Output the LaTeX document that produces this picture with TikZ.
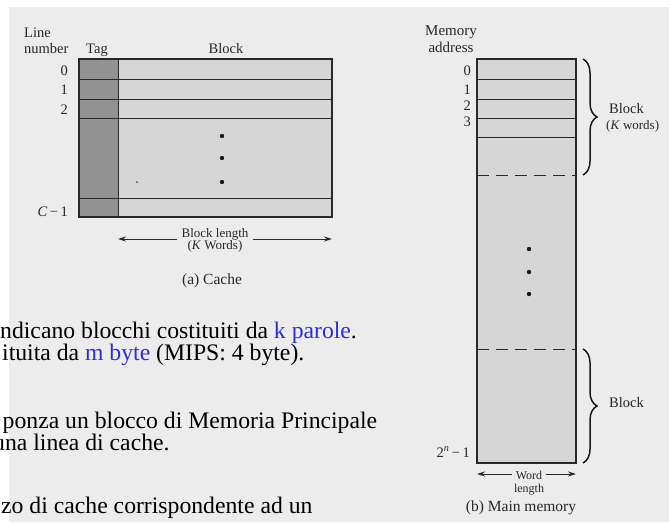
\documentclass[tikz,border=0pt]{standalone}
\usepackage{fontspec}
\setmainfont{Liberation Serif}
\usetikzlibrary{decorations.pathreplacing,arrows.meta}
\definecolor{bgc}{RGB}{236,236,236}
\definecolor{tagc}{RGB}{146,146,146}
\definecolor{blkc}{RGB}{214,214,214}
\definecolor{linec}{RGB}{40,40,40}
\definecolor{itblue}{RGB}{45,45,215}
\begin{document}
\begin{tikzpicture}[x=1pt,y=-1pt,
  hdr/.style={font=\fontsize{14.5}{16}\selectfont, inner sep=0, text=black!85},
  mhdr/.style={font=\fontsize{15}{16}\selectfont, inner sep=0, text=black!85},
  smalllbl/.style={font=\fontsize{13}{13}\selectfont, inner sep=0, text=black!85},
  tinylbl/.style={font=\fontsize{12}{12}\selectfont, inner sep=0, text=black!85},
  captionlbl/.style={font=\fontsize{15.5}{17}\selectfont, inner sep=0, text=black!85},
  ital/.style={font=\fontsize{23.7}{26}\selectfont, inner sep=0, anchor=base west},
  framebox/.style={draw=linec, line width=1.3pt, outer sep=0, inner sep=0},
  rowline/.style={draw=linec, line width=1pt},
  dashline/.style={draw=linec, line width=1pt, dash pattern=on 12pt off 7pt},
  arr/.style={draw=linec, line width=0.9pt, -{Stealth[length=8pt,width=5pt]}},
  bracestyle/.style={draw=black!90, line width=1.5pt, decorate, decoration={brace, amplitude=14pt}},
  dotc/.style={fill=black!90}
]
\useasboundingbox (0,0) rectangle (669,522);
\clip (0,0) rectangle (669,522);
\fill[white] (0,0) rectangle (669,522);
\fill[bgc] (9,7) rectangle (669,522);

% ---------- Cache ----------
\node[framebox, fill=blkc, minimum width=253, minimum height=158, anchor=north west] (cache) at (79,59) {};
\node[fill=tagc, inner sep=0, outer sep=0, minimum width=39, minimum height=158, anchor=north west] (tag) at (79,59) {};
\foreach \yy in {79,99,118,198} \draw[rowline] (79,\yy) -- (332,\yy);
\draw[rowline] (tag.north east) -- (tag.south east);
\draw[framebox] (cache.north west) rectangle (cache.south east);

\node[hdr, anchor=base west] (lline) at (24,37) {Line};
\node[hdr, anchor=base west] (lnum) at (24,53) {number};
\node[hdr, anchor=base] (ltag) at (97,53) {Tag};
\node[hdr, anchor=base] (lblock) at (226,53) {Block};
\node[hdr, anchor=base east] (r0) at (68,75) {0};
\node[hdr, anchor=base east] (r1) at (68,94) {1};
\node[hdr, anchor=base east] (r2) at (68,114) {2};
\node[hdr, anchor=base east] (rc) at (68,216) {\textit{C}\,−\,1};

\fill[dotc] (222,136) circle (2.2);
\fill[dotc] (222,158) circle (2.2);
\fill[dotc] (222,182) circle (2.2);
\fill[black!70] (137,182) circle (1);

\node[smalllbl, align=center] (blen) at (215,240) {Block length\\[-1pt](\textit{K} Words)};
\coordinate (blL) at (118,239);
\coordinate (blR) at (332,239);
\draw[arr] ([xshift=-4pt]blen.west |- blL) -- (blL);
\draw[arr] ([xshift=4pt]blen.east |- blR) -- (blR);
\node[captionlbl, anchor=base] (capa) at (212,284) {(a) Cache};

% ---------- Main memory ----------
\node[framebox, fill=blkc, minimum width=99, minimum height=404, anchor=north west] (mem) at (477,59) {};
\foreach \yy in {79,99,118,137} \draw[rowline] (477,\yy) -- (576,\yy);
\draw[dashline] (477,175) -- (576,175);
\draw[dashline] (477,349) -- (576,349);

\node[mhdr, anchor=base] (mmem) at (451,35) {Memory};
\node[mhdr, anchor=base] (maddr) at (451,52) {address};
\node[hdr, anchor=base east] (m0) at (471,75) {0};
\node[hdr, anchor=base east] (m1) at (471,94) {1};
\node[hdr, anchor=base east] (m2) at (471,110) {2};
\node[hdr, anchor=base east] (m3) at (471,126) {3};
\node[hdr, anchor=base east] (mlast) at (470,457) {2\textsuperscript{\textit{n}}\,−\,1};

\fill[dotc] (529,249) circle (2.2);
\fill[dotc] (529,272) circle (2.2);
\fill[dotc] (529,294) circle (2.2);

\coordinate (b1t) at (583,59);
\coordinate (b1b) at (583,175);
\coordinate (b2t) at (583,349);
\coordinate (b2b) at (583,463);
\draw[bracestyle] (b1t) -- (b1b);
\draw[bracestyle] (b2t) -- (b2b);
\node[hdr, anchor=base west] (bk1) at (609,113) {Block};
\node[smalllbl, anchor=base west] (bk1w) at (606,129) {(\textit{K} words)};
\node[hdr, anchor=base west] (bk2) at (609,407) {Block};

\node[tinylbl, anchor=base] (wword) at (529,479) {Word};
\node[tinylbl, anchor=base] (wlen) at (529,492) {length};
\coordinate (wL) at (477,474);
\coordinate (wR) at (576,474);
\draw[arr] ([xshift=-4pt]wword.west |- wL) -- (wL);
\draw[arr] ([xshift=4pt]wword.east |- wR) -- (wR);
\node[captionlbl, anchor=base] (capb) at (521,511) {(b) Main memory};

% ---------- Overlaid slide text ----------
\node[ital] (t1) at (0,338) {ndicano blocchi costituiti da \textcolor{itblue}{k parole}.};
\node[ital] (t2) at (2,360) {ituita da \textcolor{itblue}{m byte} (MIPS: 4 byte).};
\node[ital] (t3) at (2.5,428) {ponza un blocco di Memoria Principale};
\node[ital] (t4) at (-7,450) {una linea di cache.};
\node[ital] (t5) at (1,513) {zo di cache corrispondente ad un};
\end{tikzpicture}
\end{document}
